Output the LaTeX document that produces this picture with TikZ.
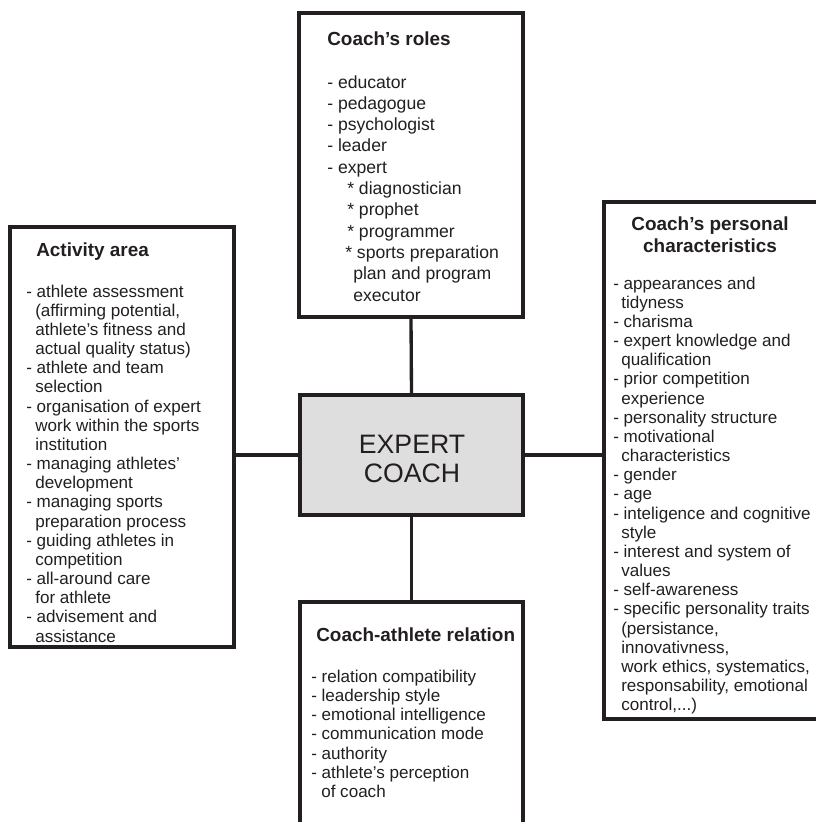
\documentclass[tikz,border=0pt]{standalone}
\usepackage{fontspec}
\setmainfont{Liberation Sans}
\usepackage{xcolor}
\usetikzlibrary{fit,positioning}

\definecolor{ink}{HTML}{231F20}
\definecolor{hubgray}{HTML}{DEDEDE}

\tikzset{
  frame/.style={draw=ink, line width=2.5pt, inner sep=0pt},
  hub/.style={frame, fill=hubgray},
  hubtext/.style={anchor=base, inner sep=0pt, text=ink, font=\fontsize{20}{22}\selectfont},
  link/.style={draw=ink, line width=2.5pt},
  head/.style={anchor=base west, inner sep=0pt, text=ink, font=\fontsize{14.2}{17}\selectfont\bfseries},
  item/.style={anchor=base west, inner sep=0pt, text=ink, font=\fontsize{12.8}{14.4}\selectfont},
  bigitem/.style={item, font=\fontsize{13.2}{16}\selectfont},
}

\begin{document}
\begin{tikzpicture}[x=0.75pt, y=-0.75pt]

\useasboundingbox (0,0) rectangle (816,822);
\fill[white] (0,0) rectangle (816,822);
\clip (0,0) rectangle (816,822);

% boxes
\node[frame, fit={(299,13) (523,317)}] (roles) {};
\node[frame, fit={(10,227) (234,647)}] (activity) {};
\node[frame, fit={(604,202) (840,719)}] (traits) {};
\node[frame, fit={(300,602) (523,850)}] (relation) {};
\node[hub, fit={(300,395) (523,515)}] (coach) {};
\node[hubtext] (coachT1) at (412,453) {EXPERT};
\node[hubtext] (coachT2) at (412,482) {COACH};

% connectors
\draw[link] (roles.south) -- (coach.north);
\draw[link] (coach.south) -- (relation.north);
\draw[link] (coach.west) -- (coach.west -| activity.east);
\draw[link] (coach.east) -- (coach.east -| traits.west);

% Coach's roles
\node[head] (rolesT) at (327,45) {Coach’s roles};
\foreach \x/\t [count=\i] in {327/{- educator}, 327/{- pedagogue}, 327/{- psychologist},
    327/{- leader}, 327/{- expert}, 347/{* diagnostician}, 347/{* prophet},
    347/{* programmer}, 345/{* sports preparation}, 353/{plan and program}, 353/{executor}} {
    \node[bigitem] (role\i) at (\x, {88+21.3*(\i-1)}) {\t};
};

% Activity area
\node[head] (activityT) at (36,256) {Activity area};
\foreach \x/\t [count=\i] in {26/{- athlete assessment}, 35/{(affirming potential,},
    35/{athlete’s fitness and}, 35/{actual quality status)}, 26/{- athlete and team},
    35/{selection}, 26/{- organisation of expert}, 35/{work within the sports},
    35/{institution}, 26/{- managing athletes’}, 35/{development},
    26/{- managing sports}, 35/{preparation process}, 26/{- guiding athletes in},
    35/{competition}, 26/{- all-around care}, 35/{for athlete},
    26/{- advisement and}, 35/{assistance}} {
    \node[item] (act\i) at (\x, {297+19.17*(\i-1)}) {\t};
};

% Coach's personal characteristics
\node[head, anchor=base] (traitsT1) at (710,230) {Coach’s personal};
\node[head, anchor=base] (traitsT2) at (710,252) {characteristics};
\foreach \x/\t [count=\i] in {613/{- appearances and}, 621/{tidyness}, 613/{- charisma},
    613/{- expert knowledge and}, 621/{qualification}, 613/{- prior competition},
    621/{experience}, 613/{- personality structure}, 613/{- motivational},
    621/{characteristics}, 613/{- gender}, 613/{- age},
    613/{- inteligence and cognitive}, 621/{style}, 613/{- interest and system of},
    621/{values}, 613/{- self-awareness}, 613/{- specific personality traits},
    621/{(persistance,}, 621/{innovativness,}, 621/{work ethics, systematics,},
    621/{responsability, emotional}, 621/{control,...)}} {
    \node[item] (trait\i) at (\x, {289+19.17*(\i-1)}) {\t};
};

% Coach-athlete relation
\node[head] (relationT) at (316,641) {Coach-athlete relation};
\foreach \x/\t [count=\i] in {311/{- relation compatibility}, 311/{- leadership style},
    311/{- emotional intelligence}, 311/{- communication mode}, 311/{- authority},
    311/{- athlete’s perception}, 321/{of coach}} {
    \node[item] (rel\i) at (\x, {682+19.3*(\i-1)}) {\t};
};

\end{tikzpicture}
\end{document}
